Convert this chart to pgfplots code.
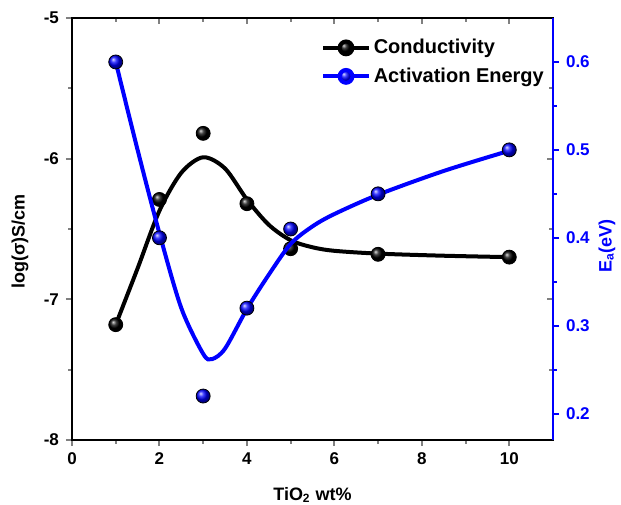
\documentclass[border=0pt]{standalone}
\usepackage{fontspec}
\setmainfont{Liberation Sans}
\usepackage{pgfplots}
\pgfplotsset{compat=1.18}
\usetikzlibrary{calc}

\pgfplotsset{
  base/.style={
    scale only axis, width=240.5pt, height=211pt,
    xmin=0, xmax=11,
    xtick={0,2,4,6,8,10}, minor x tick num=1,
    major tick length=3pt, minor tick length=1.8pt,
    every tick/.append style={line width=1pt},
    axis line style={line width=1.2pt},
    tick label style={font=\fontsize{8.5}{10}\selectfont\bfseries},
    label style={font=\fontsize{9}{11}\selectfont\bfseries},
    /pgf/number format/assume math mode=true,
  },
  ballline/.style={legend image code/.code={%
    \draw[mark repeat=2,mark phase=2,##1] plot coordinates {(0cm,0cm) (0.4cm,0cm) (0.8cm,0cm)};}},
}

\begin{document}
\begin{tikzpicture}
% mirrored inner ticks (top and right)
\begin{axis}[base, ymin=-8, ymax=-5, ytick={-8,-7,-6,-5}, minor y tick num=1,
  xtick pos=right, ytick pos=right, tick align=inside,
  xticklabels={}, yticklabels={}]
\addplot[draw=none] coordinates {(0,-8)};
\end{axis}

% conductivity (left axis)
\begin{axis}[base, name=main, ymin=-8, ymax=-5, ytick={-8,-7,-6,-5}, minor y tick num=1,
  xtick pos=left, ytick pos=left, tick align=outside,
  xlabel={TiO\textsubscript{2} wt\%},
  xlabel style={at={(axis description cs:0.5,0)}, anchor=north, inner sep=0pt, yshift=-23.5pt},
  ylabel={log(σ)S/cm},
  ylabel style={at={(axis description cs:-0.108,0.47)}, anchor=center, rotate=0}]
\addplot[black, line width=2pt, smooth] coordinates {
 (1,-7.18)(1.5,-6.78)(2,-6.37)(2.5,-6.10)(3,-5.99)(3.5,-6.07)(4,-6.29)(4.5,-6.47)
 (5,-6.58)(5.5,-6.63)(6,-6.655)(7,-6.675)(8.5,-6.69)(10,-6.70)
};
\addplot[only marks, mark=ball, mark size=3.5pt, mark options={ball color=black}] coordinates {
 (1,-7.18)(2,-6.29)(3,-5.82)(4,-6.32)(5,-6.64)(7,-6.68)(10,-6.70)
};
\end{axis}

% activation energy (right axis)
\begin{axis}[base, axis x line=none, axis y line*=right,
  ymin=0.17, ymax=0.65, ytick={0.2,0.3,0.4,0.5,0.6}, minor y tick num=1,
  tick align=outside,
  y axis line style={blue, line width=1.2pt},
  ytick style={blue, line width=1pt},
  yticklabel style={text=blue},
  /pgf/number format/.cd, fixed, precision=1, fixed zerofill, /pgfplots/.cd,
  ylabel={E\textsubscript{a}(eV)},
  ylabel style={text=blue, at={(axis description cs:1.112,0.46)}, anchor=center, rotate=0},
  legend style={at={(axis description cs:0.988,0.958)}, anchor=north east, draw=none, fill=none,
    font=\fontsize{10}{12}\selectfont\bfseries, row sep=2.5pt, inner sep=0pt,
    nodes={inner sep=1.5pt}},
  legend cell align=left, ballline]
\addlegendimage{black, line width=2pt, mark=ball, mark size=3.2pt, mark options={ball color=black}}
\addlegendentry{Conductivity}
\addlegendimage{blue, line width=2pt, mark=ball, mark size=3.2pt, mark options={ball color=blue}}
\addlegendentry{Activation Energy}
\addplot[blue, line width=2pt, smooth, forget plot] coordinates {
 (1,0.60)(1.5,0.50)(2,0.405)(2.5,0.32)(3,0.268)(3.2,0.262)(3.5,0.274)(4,0.319)
 (4.5,0.358)(5,0.393)(5.5,0.413)(6,0.427)(7,0.449)(8.5,0.476)(10,0.499)
};
\addplot[only marks, mark=ball, mark size=3.5pt, mark options={ball color=blue}, forget plot] coordinates {
 (1,0.60)(2,0.40)(3,0.22)(4,0.32)(5,0.41)(7,0.45)(10,0.50)
};
\end{axis}

\pgfresetboundingbox
\path[use as bounding box] ($(main.south west)+(-36pt,-32pt)$) rectangle ($(main.north east)+(34pt,9pt)$);
\end{tikzpicture}
\end{document}
